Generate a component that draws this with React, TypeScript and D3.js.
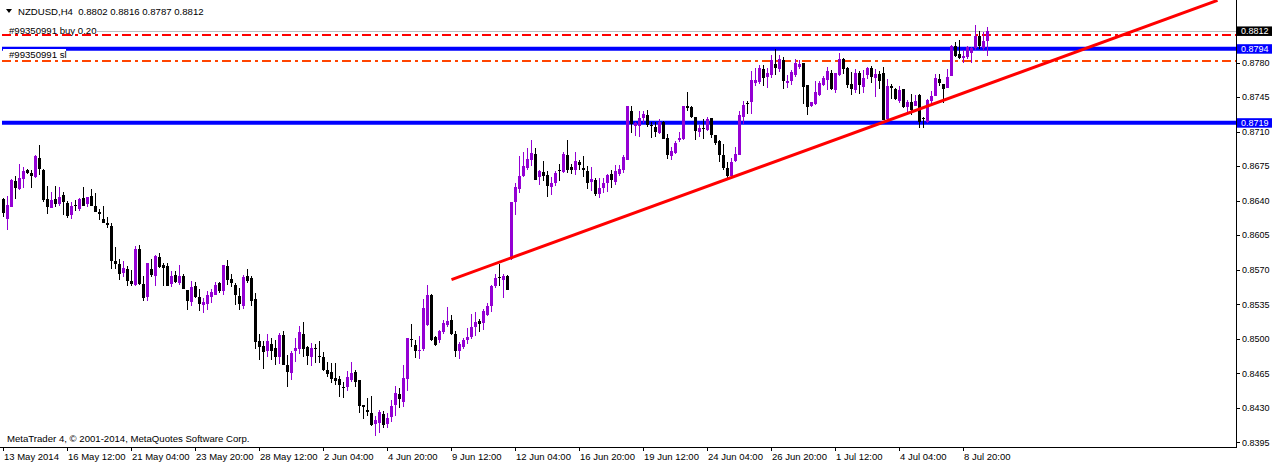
import React from "react";
import * as d3 from "d3";

const open = [
  0.8642,0.8621,0.8634,0.8660,0.8652,0.8662,0.8671,0.8668,0.8664,0.8683,
  0.8671,0.8642,0.8633,0.8642,0.8637,0.8646,0.8638,0.8625,0.8636,0.8632,
  0.8643,0.8637,0.8645,0.8635,0.8629,0.8621,0.8617,0.8614,0.8579,0.8576,
  0.8567,0.8571,0.8559,0.8555,0.8591,0.8556,0.8542,0.8571,0.8564,0.8583,
  0.8575,0.8574,0.8556,0.8565,0.8557,0.8564,0.8549,0.8537,0.8553,0.8542,
  0.8534,0.8535,0.8542,0.8544,0.8557,0.8548,0.8574,0.8561,0.8555,0.8543,
  0.8533,0.8564,0.8562,0.8540,0.8498,0.8493,0.8488,0.8495,0.8491,0.8482,
  0.8504,0.8473,0.8465,0.8488,0.8490,0.8505,0.8492,0.8482,0.8491,0.8483,
  0.8482,0.8468,0.8466,0.8460,0.8459,0.8451,0.8451,0.8458,0.8466,0.8458,
  0.8433,0.8428,0.8425,0.8414,0.8415,0.8424,0.8414,0.8421,0.8433,0.8444,
  0.8436,0.8459,0.8500,0.8494,0.8488,0.8490,0.8514,0.8544,0.8502,0.8499,
  0.8507,0.8514,0.8519,0.8505,0.8488,0.8492,0.8499,0.8502,0.8512,0.8518,
  0.8516,0.8524,0.8533,0.8553,0.8563,0.8560,0.8564,0.8581,0.8639,0.8652,
  0.8665,0.8673,0.8681,0.8687,0.8664,0.8669,0.8666,0.8654,0.8658,0.8671,
  0.8669,0.8686,0.8674,0.8671,0.8679,0.8673,0.8670,0.8659,0.8661,0.8647,
  0.8653,0.8658,0.8667,0.8659,0.8667,0.8671,0.8681,0.8731,0.8716,0.8716,
  0.8724,0.8727,0.8717,0.8715,0.8709,0.8720,0.8704,0.8685,0.8688,0.8701,
  0.8702,0.8736,0.8735,0.8725,0.8710,0.8714,0.8712,0.8724,0.8707,0.8700,
  0.8686,0.8673,0.8665,0.8680,0.8686,0.8725,0.8739,0.8740,0.8759,0.8760,
  0.8773,0.8765,0.8767,0.8779,0.8773,0.8783,0.8759,0.8761,0.8767,0.8775,
  0.8780,0.8757,0.8736,0.8738,0.8747,0.8757,0.8762,0.8769,0.8752,0.8767,
  0.8784,0.8774,0.8758,0.8752,0.8769,0.8755,0.8767,0.8774,0.8764,0.8768,
  0.8769,0.8723,0.8756,0.8753,0.8741,0.8753,0.8735,0.8740,0.8736,0.8747,
  0.8724,0.8720,0.8741,0.8746,0.8763,0.8758,0.8754,0.8766,0.8797,0.8789,
  0.8785,0.8786,0.8790,0.8795,0.8807,0.8795,0.8802,
];

const high = [
  0.8643,0.8645,0.8662,0.8665,0.8677,0.8674,0.8672,0.8671,0.8686,0.8696,
  0.8672,0.8655,0.8649,0.8655,0.8654,0.8649,0.8640,0.8639,0.8641,0.8643,
  0.8654,0.8644,0.8652,0.8648,0.8632,0.8635,0.8623,0.8617,0.8593,0.8581,
  0.8579,0.8574,0.8570,0.8594,0.8595,0.8564,0.8577,0.8581,0.8585,0.8587,
  0.8577,0.8577,0.8569,0.8569,0.8575,0.8566,0.8549,0.8559,0.8558,0.8550,
  0.8541,0.8548,0.8550,0.8558,0.8558,0.8575,0.8580,0.8566,0.8557,0.8551,
  0.8565,0.8571,0.8564,0.8546,0.8505,0.8498,0.8505,0.8501,0.8499,0.8506,
  0.8508,0.8484,0.8488,0.8501,0.8513,0.8517,0.8493,0.8496,0.8495,0.8498,
  0.8487,0.8476,0.8475,0.8475,0.8462,0.8456,0.8467,0.8476,0.8468,0.8458,
  0.8433,0.8440,0.8442,0.8422,0.8428,0.8427,0.8425,0.8438,0.8452,0.8450,
  0.8473,0.8501,0.8515,0.8499,0.8503,0.8540,0.8555,0.8545,0.8503,0.8509,
  0.8519,0.8532,0.8524,0.8508,0.8497,0.8501,0.8511,0.8525,0.8527,0.8520,
  0.8530,0.8536,0.8555,0.8566,0.8576,0.8566,0.8565,0.8639,0.8658,0.8685,
  0.8689,0.8693,0.8701,0.8693,0.8671,0.8680,0.8670,0.8664,0.8670,0.8677,
  0.8689,0.8701,0.8677,0.8689,0.8681,0.8685,0.8675,0.8674,0.8663,0.8663,
  0.8663,0.8667,0.8671,0.8676,0.8676,0.8686,0.8736,0.8736,0.8720,0.8731,
  0.8731,0.8732,0.8720,0.8720,0.8723,0.8721,0.8708,0.8694,0.8700,0.8710,
  0.8736,0.8750,0.8736,0.8725,0.8717,0.8723,0.8725,0.8724,0.8707,0.8701,
  0.8697,0.8679,0.8683,0.8694,0.8731,0.8741,0.8741,0.8771,0.8774,0.8777,
  0.8777,0.8774,0.8788,0.8794,0.8788,0.8786,0.8767,0.8772,0.8784,0.8783,
  0.8780,0.8757,0.8740,0.8761,0.8761,0.8766,0.8775,0.8772,0.8769,0.8790,
  0.8785,0.8775,0.8770,0.8773,0.8771,0.8772,0.8775,0.8776,0.8773,0.8771,
  0.8775,0.8763,0.8758,0.8754,0.8756,0.8753,0.8742,0.8748,0.8747,0.8748,
  0.8725,0.8743,0.8751,0.8768,0.8768,0.8758,0.8773,0.8798,0.8801,0.8803,
  0.8793,0.8797,0.8796,0.8818,0.8812,0.8811,0.8816,
];

const low = [
  0.8623,0.8610,0.8634,0.8642,0.8651,0.8653,0.8667,0.8653,0.8663,0.8666,
  0.8639,0.8626,0.8633,0.8634,0.8635,0.8625,0.8622,0.8621,0.8630,0.8630,
  0.8635,0.8634,0.8635,0.8628,0.8620,0.8617,0.8612,0.8571,0.8571,0.8560,
  0.8563,0.8554,0.8554,0.8554,0.8555,0.8538,0.8538,0.8563,0.8554,0.8572,
  0.8554,0.8553,0.8552,0.8557,0.8555,0.8550,0.8529,0.8533,0.8541,0.8528,
  0.8526,0.8529,0.8536,0.8544,0.8546,0.8544,0.8555,0.8552,0.8534,0.8529,
  0.8530,0.8557,0.8533,0.8490,0.8479,0.8469,0.8482,0.8478,0.8473,0.8474,
  0.8473,0.8451,0.8458,0.8476,0.8485,0.8482,0.8473,0.8472,0.8475,0.8475,
  0.8467,0.8461,0.8455,0.8453,0.8441,0.8440,0.8447,0.8456,0.8451,0.8425,
  0.8419,0.8422,0.8412,0.8401,0.8405,0.8410,0.8410,0.8416,0.8422,0.8430,
  0.8431,0.8447,0.8492,0.8481,0.8480,0.8488,0.8513,0.8498,0.8493,0.8496,
  0.8505,0.8512,0.8504,0.8482,0.8480,0.8490,0.8495,0.8500,0.8503,0.8507,
  0.8509,0.8523,0.8527,0.8551,0.8553,0.8541,0.8549,0.8580,0.8625,0.8648,
  0.8664,0.8671,0.8675,0.8661,0.8656,0.8660,0.8644,0.8646,0.8655,0.8660,
  0.8668,0.8668,0.8667,0.8666,0.8671,0.8664,0.8652,0.8650,0.8645,0.8643,
  0.8648,0.8649,0.8653,0.8656,0.8665,0.8668,0.8681,0.8709,0.8706,0.8705,
  0.8719,0.8715,0.8703,0.8705,0.8708,0.8702,0.8682,0.8681,0.8687,0.8699,
  0.8701,0.8731,0.8724,0.8701,0.8705,0.8702,0.8711,0.8704,0.8696,0.8679,
  0.8671,0.8662,0.8664,0.8679,0.8686,0.8718,0.8728,0.8728,0.8756,0.8758,
  0.8756,0.8754,0.8764,0.8767,0.8770,0.8753,0.8754,0.8757,0.8765,0.8773,
  0.8738,0.8727,0.8735,0.8737,0.8746,0.8756,0.8752,0.8752,0.8749,0.8766,
  0.8768,0.8754,0.8747,0.8749,0.8748,0.8749,0.8763,0.8759,0.8745,0.8753,
  0.8722,0.8720,0.8743,0.8742,0.8739,0.8734,0.8730,0.8727,0.8736,0.8714,
  0.8714,0.8719,0.8737,0.8746,0.8756,0.8739,0.8754,0.8766,0.8786,0.8784,
  0.8780,0.8784,0.8780,0.8793,0.8794,0.8792,0.8787,
];

const close = [
  0.8627,0.8636,0.8661,0.8653,0.8663,0.8670,0.8668,0.8665,0.8685,0.8672,
  0.8641,0.8634,0.8641,0.8637,0.8644,0.8639,0.8624,0.8635,0.8635,0.8642,
  0.8635,0.8644,0.8635,0.8629,0.8626,0.8617,0.8615,0.8579,0.8576,0.8566,
  0.8572,0.8559,0.8556,0.8591,0.8556,0.8541,0.8577,0.8565,0.8584,0.8573,
  0.8572,0.8554,0.8564,0.8558,0.8564,0.8550,0.8538,0.8552,0.8542,0.8535,
  0.8537,0.8544,0.8547,0.8555,0.8548,0.8575,0.8560,0.8557,0.8544,0.8535,
  0.8563,0.8559,0.8538,0.8497,0.8492,0.8487,0.8498,0.8488,0.8482,0.8504,
  0.8473,0.8466,0.8486,0.8491,0.8507,0.8490,0.8483,0.8491,0.8490,0.8482,
  0.8468,0.8464,0.8459,0.8457,0.8453,0.8450,0.8461,0.8465,0.8456,0.8432,
  0.8431,0.8426,0.8413,0.8418,0.8426,0.8413,0.8420,0.8432,0.8445,0.8439,
  0.8460,0.8501,0.8499,0.8488,0.8489,0.8531,0.8544,0.8499,0.8494,0.8508,
  0.8516,0.8518,0.8505,0.8488,0.8495,0.8499,0.8502,0.8512,0.8517,0.8515,
  0.8528,0.8533,0.8553,0.8562,0.8562,0.8564,0.8549,0.8639,0.8654,0.8665,
  0.8675,0.8682,0.8688,0.8661,0.8670,0.8665,0.8655,0.8658,0.8668,0.8670,
  0.8687,0.8671,0.8671,0.8680,0.8676,0.8671,0.8658,0.8662,0.8647,0.8653,
  0.8658,0.8666,0.8661,0.8670,0.8672,0.8684,0.8736,0.8718,0.8719,0.8724,
  0.8728,0.8717,0.8716,0.8710,0.8720,0.8702,0.8686,0.8690,0.8698,0.8704,
  0.8736,0.8734,0.8725,0.8711,0.8714,0.8713,0.8723,0.8707,0.8698,0.8686,
  0.8673,0.8665,0.8679,0.8687,0.8727,0.8737,0.8738,0.8762,0.8762,0.8774,
  0.8764,0.8769,0.8783,0.8774,0.8784,0.8761,0.8761,0.8770,0.8780,0.8779,
  0.8755,0.8735,0.8740,0.8750,0.8759,0.8764,0.8771,0.8753,0.8769,0.8784,
  0.8773,0.8757,0.8753,0.8769,0.8757,0.8764,0.8774,0.8765,0.8768,0.8761,
  0.8722,0.8756,0.8754,0.8743,0.8752,0.8735,0.8740,0.8732,0.8741,0.8720,
  0.8723,0.8742,0.8746,0.8764,0.8759,0.8753,0.8765,0.8797,0.8787,0.8785,
  0.8787,0.8796,0.8795,0.8807,0.8797,0.8802,0.8812,
];

const timeLabels = [
  "13 May 2014", "16 May 12:00", "21 May 04:00", "23 May 20:00",
  "28 May 12:00", "2 Jun 04:00", "4 Jun 20:00", "9 Jun 12:00",
  "12 Jun 04:00", "16 Jun 20:00", "19 Jun 12:00", "24 Jun 04:00",
  "26 Jun 20:00", "1 Jul 12:00", "4 Jul 04:00", "8 Jul 20:00",
];
const timeLabelStep = 16;

const priceTicks = [0.8395, 0.8430, 0.8465, 0.8500, 0.8535, 0.8570, 0.8605, 0.8640, 0.8675, 0.8710, 0.8745, 0.8780];
const horizontalLevels = [0.8794, 0.8719];
const bidPrice = 0.8812;
const buyPrice = 0.8808;
const slPrice = 0.8782;
const trendStart = { bar: 112, price: 0.8560 };
const trendEnd = { bar: 303.5, price: 0.8843 };

const header = "NZDUSD,H4  0.8802 0.8816 0.8787 0.8812";
const buyLabel = "#99350991 buy 0.20";
const slLabel = "#99350991 sl";
const copyright = "MetaTrader 4, \u00A9 2001-2014, MetaQuotes Software Corp.";

const BULL = "#9400D3";
const BEAR = "#000000";
const FONT = "'Liberation Sans', Arial, sans-serif";

export default function App() {
  const W = 1276, H = 464;
  const plot = { left: 2, right: 1236, top: 0, bottom: 447 };
  const x = d3.scaleLinear().domain([0, open.length - 1]).range([3.5, 3.5 + 4 * (open.length - 1)]);
  const y = d3.scaleLinear().domain([0.8794, 0.8719]).range([48.7, 122.7]);
  const fmt = d3.format(".4f");
  const py = (p: number) => Math.round(y(p)) + 0.5;
  const pyi = (p: number) => Math.round(y(p));

  return (
    <svg width={W} height={H} style={{ position: "absolute", left: 0, top: 0, background: "#fff" }} fontFamily={FONT}>
      <defs>
        <clipPath id="plotclip">
          <rect x={plot.left} y={plot.top} width={plot.right - plot.left} height={plot.bottom - plot.top} />
        </clipPath>
      </defs>
      <rect x={0} y={0} width={W} height={H} fill="#fff" />

      {/* bid line */}
      <line x1={97} x2={plot.right} y1={py(bidPrice)} y2={py(bidPrice)} stroke="#C0C0C0" strokeWidth={1} shapeRendering="crispEdges" />
      {/* order lines */}
      <line x1={plot.left} x2={plot.right} y1={pyi(buyPrice)} y2={pyi(buyPrice)} stroke="#FF0000" strokeWidth={2} strokeDasharray="9,4,3,4" shapeRendering="crispEdges" />
      <line x1={plot.left} x2={plot.right} y1={pyi(slPrice)} y2={pyi(slPrice)} stroke="#FF4500" strokeWidth={2} strokeDasharray="9,4,3,4" shapeRendering="crispEdges" />

      {/* horizontal levels */}
      {horizontalLevels.map((p) => (
        <line key={p} x1={plot.left} x2={plot.right} y1={y(p)} y2={y(p)} stroke="#0000FF" strokeWidth={4} />
      ))}

      {/* candles */}
      <g shapeRendering="crispEdges">
        {open.map((o, i) => {
          const c = close[i];
          const bull = c > o;
          const col = bull ? BULL : BEAR;
          const cx = x(i);
          const top = y(Math.max(o, c));
          const bot = y(Math.min(o, c));
          return (
            <g key={i}>
              <rect x={cx - 0.5} y={y(high[i])} width={1} height={Math.max(1, y(low[i]) - y(high[i]))} fill={col} />
              <rect x={cx - 1.5} y={top} width={3} height={Math.max(1, bot - top)} fill={col} />
            </g>
          );
        })}
      </g>

      {/* trend line */}
      <g clipPath="url(#plotclip)">
        <line x1={x(trendStart.bar)} y1={y(trendStart.price)} x2={x(trendEnd.bar)} y2={y(trendEnd.price)} stroke="#FF0000" strokeWidth={3} />
      </g>

      {/* header */}
      <path d="M6,9 L12,9 L9,13 Z" fill="#000" />
      <text x={18} y={14.5} fontSize={9.6} fill="#000" style={{ whiteSpace: "pre" }}>{header}</text>

      {/* order labels */}
      <rect x={3} y={26} width={94} height={8} fill="#fff" />
      <text x={9} y={33.5} fontSize={9.6} fill="#000">{buyLabel}</text>
      <rect x={3} y={49} width={63} height={10} fill="#fff" />
      <text x={9} y={57.5} fontSize={9.6} fill="#000">{slLabel}</text>

      {/* copyright */}
      <text x={7} y={441.5} fontSize={9.6} fill="#000">{copyright}</text>

      {/* axes frame */}
      <line x1={plot.right + 0.5} x2={plot.right + 0.5} y1={0} y2={plot.bottom} stroke="#000" shapeRendering="crispEdges" />
      <line x1={0} x2={plot.right + 1} y1={plot.bottom + 0.5} y2={plot.bottom + 0.5} stroke="#000" shapeRendering="crispEdges" />

      {/* price axis */}
      {priceTicks.map((p) => (
        <g key={p}>
          <line x1={plot.right} x2={plot.right + 4} y1={py(p)} y2={py(p)} stroke="#000" shapeRendering="crispEdges" />
          <text x={1242} y={y(p) + 3.3} fontSize={9} fill="#000">{fmt(p)}</text>
        </g>
      ))}
      {horizontalLevels.map((p) => (
        <g key={"tag" + p}>
          <rect x={1237} y={y(p) - 4.5} width={35} height={9.5} fill="#0000FF" />
          <text x={1241} y={y(p) + 3.3} fontSize={9} fill="#fff">{fmt(p)}</text>
        </g>
      ))}
      <rect x={1237} y={y(bidPrice) - 4.5} width={35} height={9.5} fill="#000" />
      <text x={1241} y={y(bidPrice) + 3.3} fontSize={9} fill="#fff">{fmt(bidPrice)}</text>

      {/* time axis */}
      {timeLabels.map((t, k) => {
        const tx = Math.round(x(k * timeLabelStep) - 0.5);
        return (
          <g key={t}>
            <line x1={tx + 0.5} x2={tx + 0.5} y1={plot.bottom} y2={plot.bottom + 4} stroke="#000" shapeRendering="crispEdges" />
            <text x={tx + 1} y={459.5} fontSize={9.5} fill="#000">{t}</text>
          </g>
        );
      })}
    </svg>
  );
}
